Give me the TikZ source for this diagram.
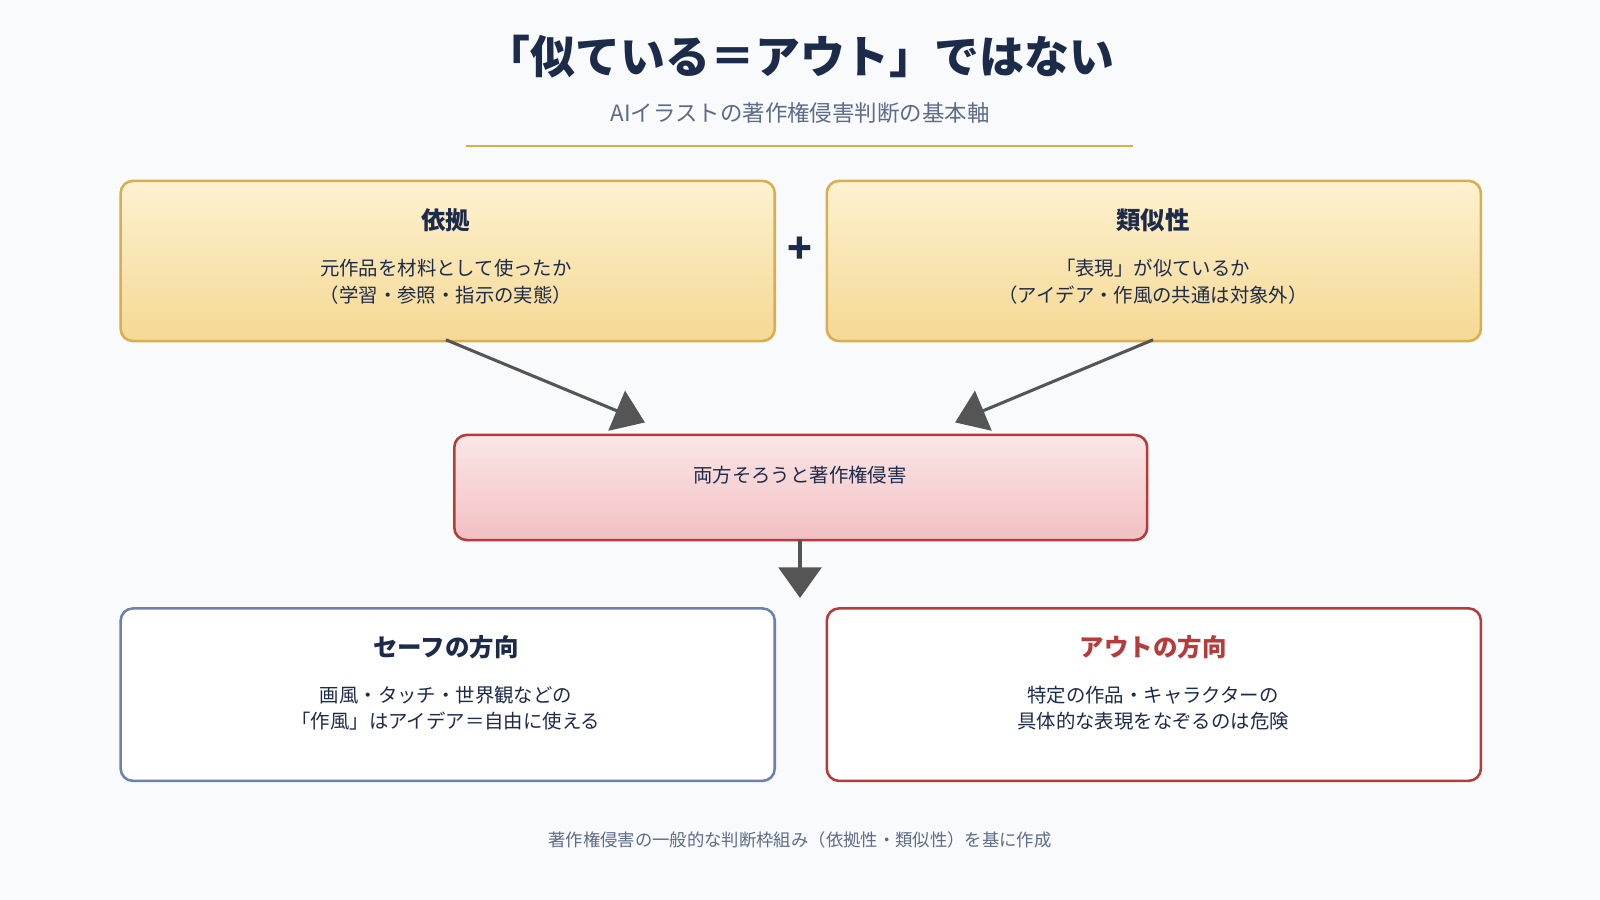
\documentclass[tikz,border=0pt]{standalone}
\usepackage{fontspec}
\setmainfont{Noto Sans CJK JP}
\newfontfamily\jpbold{Noto Sans CJK JP}[BoldFont={* Bold}]
\usetikzlibrary{arrows.meta,positioning}
\definecolor{navy}{HTML}{1C2B4A}
\definecolor{subgray}{HTML}{5E6B88}
\definecolor{goldline}{HTML}{D8AE4E}
\definecolor{goldtop}{HTML}{FDF2D0}
\definecolor{goldbot}{HTML}{F5D894}
\definecolor{pinktop}{HTML}{FBE6E6}
\definecolor{pinkbot}{HTML}{F2C0C3}
\definecolor{redline}{HTML}{B63C3C}
\definecolor{blueline}{HTML}{6C80B2}
\definecolor{bgcol}{HTML}{F8FAFC}
\definecolor{arrowgray}{HTML}{555555}
\def\fs#1{\fontsize{#1}{#1}\selectfont}

\begin{document}
\begin{tikzpicture}[x=1pt,y=-1pt,
    box/.style={draw,line width=2.5pt,rounded corners=12pt,minimum width=641pt,anchor=north west},
    goldbox/.style={box,draw=goldline,top color=goldtop,bottom color=goldbot,minimum height=157pt},
    pinkbox/.style={box,draw=redline,top color=pinktop,bottom color=pinkbot,minimum width=679pt,minimum height=103pt},
    whitebox/.style={box,fill=white,minimum height=169pt},
    head/.style={font=\fs{24}\bfseries,text=navy},
    body/.style={font=\fs{19},text=navy,align=center},
    bigarrow/.style={draw=arrowgray,line width=3pt,-{Triangle[length=30pt,width=42pt]}}
    ]
    \fill[bgcol] (0,0) rectangle (1568,882);
    \useasboundingbox (0,0) rectangle (1568,882);

    % title
    \node[font=\fs{44}\bfseries,text=navy] (title) at (784,55) {「似ている＝アウト」ではない};
    \node[font=\fs{22},text=subgray] (subtitle) at (784,111) {AIイラストの著作権侵害判断の基本軸};
    \draw[goldline,line width=2.5pt] (457,143) -- (1110,143);

    % top boxes
    \node[goldbox] (izon) at (117,176) {};
    \node[goldbox] (ruiji) at (809,176) {};
    \node[head] at (437,216) {依拠};
    \node[body] at (437,276) {元作品を材料として使ったか\\[8pt]（学習・参照・指示の実態）};
    \node[head] at (1130,216) {類似性};
    \node[body] at (1130,276) {「表現」が似ているか\\[8pt]（アイデア・作風の共通は対象外）};
    \node[font=\fs{40}\bfseries,text=navy] (plus) at (784,245) {+};

    % middle box
    \node[pinkbox] (both) at (444,425) {};
    \node[body] at (784,466) {両方そろうと著作権侵害};
    \coordinate (izonout) at (437,333);
    \coordinate (ruijiout) at (1130,333);
    \draw[bigarrow] (izonout) -- (632,414);
    \draw[bigarrow] (ruijiout) -- (936,414);
    \draw[bigarrow] (784,528) -- (784,586);

    % bottom boxes
    \node[whitebox,draw=blueline] (safe) at (117,595) {};
    \node[whitebox,draw=redline] (out) at (809,595) {};
    \node[head] at (437,634) {セーフの方向};
    \node[body] at (437,694) {画風・タッチ・世界観などの\\[6pt]「作風」はアイデア＝自由に使える};
    \node[head,text=redline] at (1130,634) {アウトの方向};
    \node[body] at (1130,694) {特定の作品・キャラクターの\\[6pt]具体的な表現をなぞるのは危険};

    % footnote
    \node[font=\fs{17},text=subgray] (note) at (784,823) {著作権侵害の一般的な判断枠組み（依拠性・類似性）を基に作成};
\end{tikzpicture}
\end{document}
